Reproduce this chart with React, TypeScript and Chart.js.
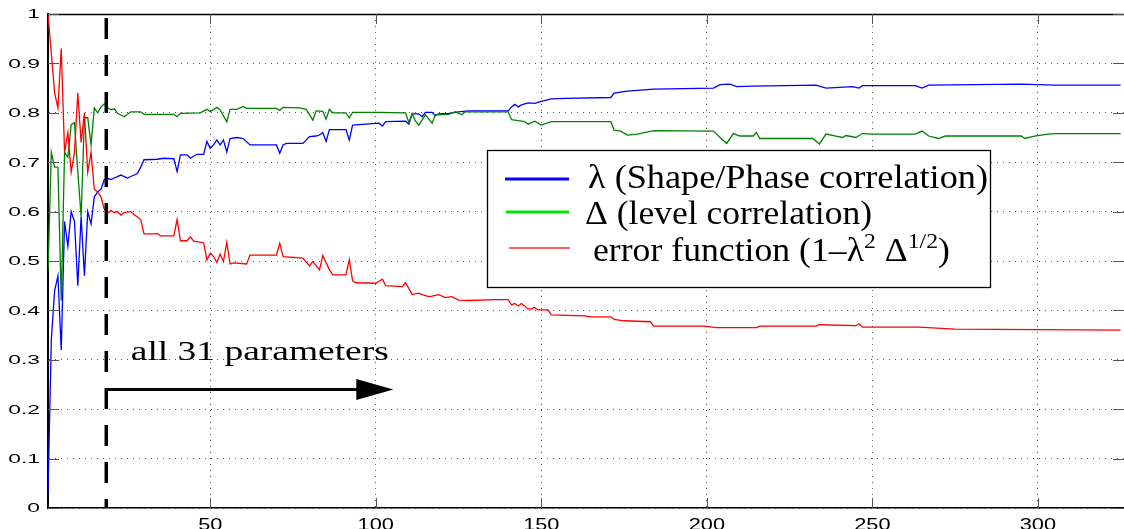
import React, { useEffect, useRef } from "react";
import { Chart, registerables } from "chart.js";

Chart.register(...registerables);

// ---- data (iteration index, value) ----
const lambdaSeries: [number, number][] = [
  [1, 0.03], [2, 0.34], [3, 0.44], [4, 0.47], [5, 0.32], [6, 0.58], [7, 0.53], [8, 0.6], [9, 0.58], [10, 0.45],
  [11, 0.59], [12, 0.47], [13, 0.6], [14, 0.575], [15, 0.63], [16, 0.64], [17, 0.645], [18, 0.665], [19, 0.667],
  [20, 0.665], [21, 0.668], [23, 0.674], [25, 0.668], [26, 0.671], [28, 0.677], [29, 0.69], [30, 0.705], [34, 0.706],
  [36, 0.708], [39, 0.707], [40, 0.681], [41, 0.715], [43, 0.715], [44, 0.708], [46, 0.716], [48, 0.716], [49, 0.742],
  [50, 0.728], [51, 0.735], [52, 0.745], [53, 0.735], [54, 0.745], [55, 0.721], [56, 0.748], [58, 0.75], [60, 0.748],
  [62, 0.735], [70, 0.735], [71, 0.718], [72, 0.735], [73, 0.738], [78, 0.738], [80, 0.752], [82, 0.753], [83, 0.755],
  [84, 0.76], [85, 0.742], [86, 0.766], [91, 0.766], [92, 0.745], [93, 0.775], [97, 0.777], [101, 0.779], [102, 0.773],
  [103, 0.782], [109, 0.783], [110, 0.777], [111, 0.798], [113, 0.798], [114, 0.792], [115, 0.801], [117, 0.801],
  [118, 0.794], [119, 0.798], [122, 0.799], [125, 0.802], [128, 0.804], [140, 0.804], [141, 0.812], [142, 0.817],
  [143, 0.812], [144, 0.816], [146, 0.82], [148, 0.819], [150, 0.823], [153, 0.828], [157, 0.829], [171, 0.831],
  [172, 0.84], [176, 0.844], [184, 0.848], [202, 0.85], [204, 0.857], [207, 0.858], [209, 0.853], [214, 0.854],
  [233, 0.856], [236, 0.85], [244, 0.853], [246, 0.85], [247, 0.855], [263, 0.855], [265, 0.85], [267, 0.856],
  [295, 0.858], [305, 0.856], [325, 0.856],
];

const deltaSeries: [number, number][] = [
  [1, 0.48], [2, 0.72], [3, 0.69], [4, 0.69], [5, 0.42], [6, 0.72], [7, 0.71], [8, 0.776], [9, 0.78], [10, 0.68],
  [11, 0.59], [12, 0.79], [13, 0.79], [14, 0.735], [15, 0.81], [16, 0.8], [17, 0.812], [18, 0.818], [19, 0.81],
  [20, 0.806], [21, 0.808], [22, 0.799], [24, 0.792], [26, 0.802], [29, 0.802], [30, 0.797], [39, 0.797], [40, 0.792],
  [41, 0.799], [47, 0.8], [49, 0.807], [50, 0.802], [52, 0.811], [53, 0.806], [55, 0.782], [56, 0.807], [58, 0.807],
  [60, 0.813], [61, 0.809], [70, 0.809], [71, 0.805], [72, 0.811], [77, 0.81], [79, 0.807], [81, 0.785], [82, 0.804],
  [84, 0.803], [85, 0.787], [86, 0.807], [87, 0.8], [91, 0.8], [92, 0.79], [93, 0.801], [101, 0.801], [109, 0.8],
  [110, 0.78], [111, 0.799], [112, 0.783], [113, 0.775], [115, 0.796], [117, 0.779], [118, 0.796], [122, 0.797],
  [124, 0.802], [126, 0.796], [127, 0.802], [140, 0.802], [141, 0.786], [143, 0.784], [145, 0.782], [146, 0.777],
  [148, 0.783], [150, 0.775], [153, 0.782], [171, 0.782], [172, 0.765], [174, 0.763], [176, 0.755], [179, 0.757],
  [184, 0.764], [202, 0.763], [204, 0.75], [206, 0.738], [208, 0.758], [210, 0.753], [214, 0.753], [215, 0.76],
  [216, 0.748], [232, 0.748], [234, 0.737], [236, 0.757], [239, 0.753], [241, 0.75], [242, 0.754], [245, 0.75],
  [247, 0.758], [250, 0.757], [263, 0.757], [265, 0.763], [267, 0.753], [270, 0.748], [272, 0.753], [295, 0.753],
  [296, 0.748], [299, 0.753], [303, 0.757], [305, 0.758], [325, 0.758],
];

const errorSeries: [number, number][] = [
  [1, 1.0], [2, 0.92], [3, 0.84], [4, 0.81], [5, 0.93], [6, 0.72], [7, 0.76], [8, 0.68], [9, 0.72], [10, 0.84],
  [11, 0.74], [12, 0.8], [13, 0.68], [14, 0.72], [15, 0.645], [16, 0.64], [17, 0.63], [18, 0.605], [19, 0.597],
  [20, 0.602], [21, 0.598], [22, 0.6], [23, 0.593], [24, 0.598], [26, 0.6], [27, 0.594], [29, 0.584], [30, 0.555],
  [33, 0.555], [34, 0.556], [35, 0.551], [39, 0.551], [40, 0.584], [41, 0.541], [43, 0.541], [44, 0.549], [45, 0.54],
  [48, 0.537], [49, 0.502], [50, 0.516], [51, 0.509], [52, 0.497], [53, 0.514], [54, 0.499], [55, 0.538], [56, 0.494],
  [57, 0.496], [61, 0.494], [62, 0.512], [70, 0.512], [71, 0.536], [72, 0.509], [74, 0.508], [78, 0.506], [80, 0.49],
  [81, 0.499], [83, 0.482], [84, 0.511], [86, 0.482], [87, 0.472], [91, 0.472], [92, 0.503], [93, 0.46], [94, 0.456],
  [100, 0.455], [102, 0.463], [103, 0.45], [108, 0.448], [109, 0.456], [111, 0.432], [113, 0.435], [114, 0.432],
  [116, 0.428], [117, 0.429], [119, 0.432], [121, 0.426], [123, 0.428], [125, 0.421], [128, 0.42], [136, 0.422],
  [140, 0.422], [141, 0.411], [142, 0.414], [143, 0.409], [144, 0.414], [146, 0.403], [147, 0.403], [148, 0.406],
  [149, 0.401], [152, 0.401], [153, 0.391], [163, 0.389], [165, 0.387], [171, 0.387], [172, 0.382], [175, 0.379],
  [183, 0.377], [184, 0.368], [199, 0.368], [203, 0.365], [215, 0.365], [216, 0.368], [233, 0.368], [234, 0.371],
  [245, 0.369], [246, 0.373], [247, 0.366], [264, 0.366], [275, 0.362], [300, 0.361], [325, 0.36],
];

const xTickValues = [50, 100, 150, 200, 250, 300];
const xTickLabels = ["50", "100", "150", "200", "250", "300"];
const yTickValues = [0, 0.1, 0.2, 0.3, 0.4, 0.5, 0.6, 0.7, 0.8, 0.9, 1];
const yTickLabels = ["0", "0.1", "0.2", "0.3", "0.4", "0.5", "0.6", "0.7", "0.8", "0.9", "1"];

const seriesNames = ["λ (Shape/Phase correlation)", "Δ (level correlation)", "error function"];
const annotationText = "all 31 parameters";
const dividerX = 18.6;
const arrowFromX = 18.6;
const arrowToX = 105.3;
const arrowAtY = 0.24;
const annotationAtX = 26;
const annotationAtY = 0.3;

// ---- style ----
const BLUE = "#0000ff";
const GREEN = "#008000";
const LEGEND_GREEN = "#00e600";
const RED = "#ff0000";
const SANS = '"Liberation Sans", Arial, sans-serif';
const SERIF = '"Liberation Serif", "Times New Roman", serif';

type Run = { t: string; sup?: boolean };

function drawStretched(ctx: CanvasRenderingContext2D, text: string, x: number, y: number, sx: number, align: string) {
  const w = ctx.measureText(text).width * sx;
  let left = x;
  if (align === "right") left = x - w;
  else if (align === "center") left = x - w / 2;
  ctx.save();
  ctx.translate(left, y);
  ctx.scale(sx, 1);
  ctx.textAlign = "left";
  ctx.fillText(text, 0, 0);
  ctx.restore();
}

function drawRuns(ctx: CanvasRenderingContext2D, runs: Run[], x: number, y: number, targetW: number,
  baseFont: string, supFont: string, supRise: number) {
  let total = 0;
  const widths = runs.map((r) => {
    ctx.font = r.sup ? supFont : baseFont;
    const w = ctx.measureText(r.t).width;
    total += w;
    return w;
  });
  const sx = targetW / total;
  ctx.save();
  ctx.translate(x, y);
  ctx.scale(sx, 1);
  ctx.textAlign = "left";
  ctx.textBaseline = "alphabetic";
  let cx = 0;
  runs.forEach((r, i) => {
    ctx.font = r.sup ? supFont : baseFont;
    ctx.fillText(r.t, cx, r.sup ? -supRise : 0);
    cx += widths[i];
  });
  ctx.restore();
}

const overlayPlugin = {
  id: "overlay",
  afterDatasetsDraw(chart: any) {
    const { ctx, chartArea: a, scales } = chart;
    const xs = scales.x;
    const ys = scales.y;
    ctx.save();

    // top border
    ctx.strokeStyle = "#000";
    ctx.lineWidth = 1.5;
    ctx.beginPath();
    ctx.moveTo(a.left, a.top + 0.5);
    ctx.lineTo(a.right, a.top + 0.5);
    ctx.stroke();

    // inward tick marks
    ctx.strokeStyle = "#555";
    ctx.lineWidth = 1;
    const seg = (x1: number, y1: number, x2: number, y2: number) => {
      ctx.beginPath();
      ctx.moveTo(x1, y1);
      ctx.lineTo(x2, y2);
      ctx.stroke();
    };
    xTickValues.forEach((v) => {
      const px = Math.round(xs.getPixelForValue(v)) + 0.5;
      seg(px, a.bottom, px, a.bottom - 10);
      seg(px, a.top, px, a.top + 10);
    });
    yTickValues.forEach((v) => {
      const py = Math.round(ys.getPixelForValue(v)) + 0.5;
      seg(a.left, py, a.left + 11, py);
      seg(a.right, py, a.right - 11, py);
    });

    // dashed divider
    const dx = xs.getPixelForValue(dividerX);
    ctx.strokeStyle = "#000";
    ctx.lineWidth = 3.5;
    ctx.setLineDash([21, 16]);
    ctx.lineDashOffset = 33;
    seg(dx, a.top, dx, a.bottom);
    ctx.setLineDash([]);

    // arrow
    const ax1 = xs.getPixelForValue(arrowFromX);
    const ax2 = xs.getPixelForValue(arrowToX);
    const ay = ys.getPixelForValue(arrowAtY);
    const headLen = 37;
    const headHalf = 10.5;
    ctx.lineWidth = 3;
    seg(ax1, ay, ax2 - headLen + 2, ay);
    ctx.fillStyle = "#000";
    ctx.beginPath();
    ctx.moveTo(ax2, ay);
    ctx.lineTo(ax2 - headLen, ay - headHalf);
    ctx.lineTo(ax2 - headLen, ay + headHalf);
    ctx.closePath();
    ctx.fill();

    // annotation text
    ctx.fillStyle = "#000";
    ctx.font = `27px ${SERIF}`;
    ctx.textBaseline = "alphabetic";
    drawRuns(ctx, [{ t: annotationText }], xs.getPixelForValue(annotationAtX), ys.getPixelForValue(annotationAtY),
      258, `27px ${SERIF}`, `19px ${SERIF}`, 10);

    // legend box
    const L = { left: 487, top: 150, right: 990, bottom: 287 };
    ctx.fillStyle = "#fff";
    ctx.fillRect(L.left, L.top, L.right - L.left, L.bottom - L.top);
    ctx.strokeStyle = "#000";
    ctx.lineWidth = 1.3;
    ctx.strokeRect(L.left + 0.5, L.top + 0.5, L.right - L.left, L.bottom - L.top);

    // legend samples
    ctx.lineWidth = 3.2;
    ctx.strokeStyle = BLUE;
    seg(505, 179, 569, 179);
    ctx.strokeStyle = LEGEND_GREEN;
    seg(506, 212, 569, 212);
    ctx.lineWidth = 1.3;
    ctx.strokeStyle = "#ff3030";
    seg(509, 248, 570, 248);

    // legend text
    ctx.fillStyle = "#000";
    const base = `33px ${SERIF}`;
    const sup = `22px ${SERIF}`;
    drawRuns(ctx, [{ t: seriesNames[0] }], 588, 188, 400, base, sup, 13);
    drawRuns(ctx, [{ t: seriesNames[1] }], 585, 224, 287, base, sup, 13);
    drawRuns(ctx, [
      { t: seriesNames[2] + " (1–λ" }, { t: "2", sup: true }, { t: " Δ" }, { t: "1/2", sup: true }, { t: ")" },
    ], 593, 261, 357, base, sup, 13);

    ctx.restore();
  },
  afterDraw(chart: any) {
    const { ctx, chartArea: a, scales } = chart;
    ctx.save();
    ctx.fillStyle = "#000";
    // y tick labels
    ctx.font = `12px ${SANS}`;
    ctx.textBaseline = "middle";
    yTickValues.forEach((v, i) => {
      drawStretched(ctx, yTickLabels[i], a.left - 8, scales.y.getPixelForValue(v) + 1, 1.9, "right");
    });
    // x tick labels
    ctx.font = `17px ${SANS}`;
    ctx.textBaseline = "top";
    xTickValues.forEach((v, i) => {
      drawStretched(ctx, xTickLabels[i], scales.x.getPixelForValue(v), a.bottom + 9, 1.28, "center");
    });
    ctx.restore();
  },
};

function toPoints(s: [number, number][]) {
  return s.map(([x, y]) => ({ x, y }));
}

export default function App() {
  const ref = useRef<HTMLCanvasElement | null>(null);

  useEffect(() => {
    if (!ref.current) return;
    const chart = new Chart(ref.current, {
      type: "line",
      data: {
        datasets: [
          { label: seriesNames[0], data: toPoints(lambdaSeries), borderColor: BLUE, borderWidth: 1.3, pointRadius: 0, order: 3 },
          { label: seriesNames[1], data: toPoints(deltaSeries), borderColor: GREEN, borderWidth: 1.3, pointRadius: 0, order: 2 },
          { label: seriesNames[2], data: toPoints(errorSeries), borderColor: RED, borderWidth: 1.3, pointRadius: 0, order: 1 },
        ],
      },
      options: {
        animation: false,
        responsive: false,
        devicePixelRatio: 1,
        layout: { padding: { left: 48, right: 0, top: 14, bottom: 21 } },
        plugins: { legend: { display: false }, tooltip: { enabled: false }, title: { display: false } },
        elements: { line: { tension: 0 } },
        scales: {
          x: {
            type: "linear",
            min: 1,
            max: 326,
            afterBuildTicks: (s: any) => { s.ticks = xTickValues.map((v) => ({ value: v })); },
            ticks: { display: false },
            grid: { color: "rgba(0,0,0,0.65)", lineWidth: 1, drawTicks: false },
            border: { display: true, color: "#000", width: 1.5, dash: [1, 5] },
          },
          y: {
            type: "linear",
            min: 0,
            max: 1,
            afterBuildTicks: (s: any) => { s.ticks = yTickValues.map((v) => ({ value: v })); },
            ticks: { display: false },
            grid: { color: "rgba(0,0,0,0.65)", lineWidth: 1, drawTicks: false },
            border: { display: true, color: "#000", width: 2, dash: [1, 5] },
          },
        },
      } as any,
      plugins: [overlayPlugin],
    });
    return () => chart.destroy();
  }, []);

  return (
    <div style={{ position: "fixed", left: 0, top: 0, width: 1124, height: 529, background: "#fff" }}>
      <canvas ref={ref} width={1124} height={529} style={{ display: "block", width: 1124, height: 529 }} />
    </div>
  );
}
